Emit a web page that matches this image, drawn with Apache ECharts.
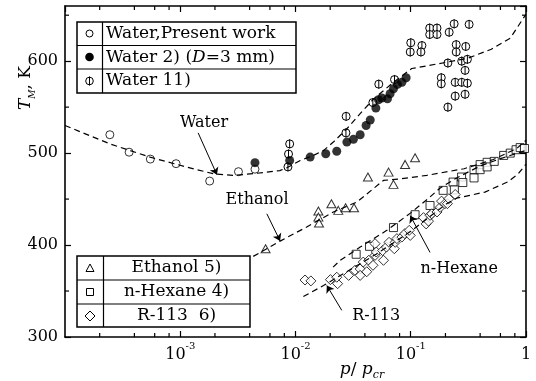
<!DOCTYPE html>
<html>
<head>
<meta charset="utf-8">
<script src="https://cdn.jsdelivr.net/npm/echarts@6/dist/echarts.min.js"></script>
<style>
html, body { margin: 0; padding: 0; background: #fff; }
#chart { width: 536px; height: 381px; }
</style>
</head>
<body>
<div id="chart"></div>
<script>
const X_MIN = 1e-4, X_MAX = 1;
const Y_MIN = 300, Y_MAX = 660;
const FONT = 'DejaVu Serif';

// minor tick positions (p/pcr) and temperatures
const xMinorTicks = [2e-4, 4e-4, 6e-4, 8e-4, 2e-3, 4e-3, 6e-3, 8e-3, 0.02, 0.04, 0.06, 0.08, 0.2, 0.4, 0.6, 0.8];
const yMinorTicks = [350, 450, 550, 650];

// measured points [p/pcr, T_M (K)]
const waterPresent = [[2.45e-4, 520], [3.6e-4, 501], [5.5e-4, 493.5], [9.2e-4, 488.5], [1.8e-3, 469.6],
  [3.2e-3, 479.8], [4.45e-3, 482.5]];
const waterRef2 = [[4.45e-3, 489.6], [8.9e-3, 492], [0.0134, 495.7], [0.0183, 499.3], [0.0228, 502],
  [0.0279, 512], [0.0318, 515], [0.0364, 520], [0.041, 530], [0.0445, 536], [0.0498, 549], [0.0525, 558],
  [0.0561, 560], [0.0628, 559], [0.0662, 564.6], [0.0708, 570], [0.0767, 574.7], [0.0838, 577], [0.0912, 582]];
const waterRef11 = [[8.6e-3, 485], [8.7e-3, 499], [8.9e-3, 510], [0.0274, 522], [0.0275, 540], [0.0469, 555],
  [0.0528, 575], [0.0723, 580], [0.1, 620], [0.099, 610], [0.125, 617], [0.1225, 610], [0.146, 636], [0.169, 636],
  [0.146, 629], [0.169, 629], [0.2155, 631.5], [0.238, 640.6], [0.321, 640], [0.248, 618], [0.248, 610], [0.30, 616],
  [0.21, 598], [0.277, 600], [0.31, 602], [0.296, 590], [0.184, 582], [0.184, 575.4], [0.243, 577], [0.277, 577],
  [0.31, 576], [0.243, 562], [0.296, 564], [0.21, 550]];
const ethanol5 = [[5.5e-3, 396], [0.0158, 437], [0.0158, 430.4], [0.016, 424], [0.0205, 445], [0.0235, 437.7],
  [0.0272, 440.6], [0.0322, 440.6], [0.0425, 474], [0.0642, 479.3], [0.0708, 466], [0.0893, 487.7], [0.109, 495]];
const hexane4 = [[0.0336, 390], [0.0439, 398.6], [0.0708, 419], [0.109, 433], [0.147, 443], [0.191, 459.5],
  [0.233, 468.5], [0.239, 460], [0.276, 474], [0.283, 468], [0.354, 482], [0.354, 473], [0.40, 487.5], [0.40, 482],
  [0.46, 490], [0.46, 485], [0.53, 491], [0.64, 497.5], [0.73, 500], [0.82, 503.7], [0.89, 506], [0.97, 505]];
const r113_6 = [[0.0121, 362], [0.0136, 361], [0.0201, 362.4], [0.0232, 358], [0.0228, 365], [0.0289, 367],
  [0.0328, 372.5], [0.0364, 374], [0.0364, 367], [0.0387, 381.5], [0.0415, 371], [0.0432, 383.4], [0.047, 378],
  [0.049, 388.8], [0.049, 401.5], [0.0502, 392.4], [0.057, 394], [0.058, 383.4], [0.0615, 397.8], [0.0648, 403],
  [0.072, 396], [0.0733, 403], [0.0758, 407], [0.0838, 408.7], [0.0888, 412.4], [0.099, 410.5], [0.097, 416],
  [0.129, 429.8], [0.136, 423], [0.1426, 426], [0.147, 432.3], [0.152, 434], [0.169, 436], [0.18, 441],
  [0.185, 447.8], [0.198, 445], [0.208, 445], [0.214, 450.4], [0.243, 455]];

// correlation curves (dashed)
const waterCurve = [[1e-4, 530], [2.46e-4, 510], [5.47e-4, 495.6], [1.14e-3, 484.8], [1.93e-3, 477.6],
  [2.87e-3, 475.8], [4.28e-3, 477.6], [7.3e-3, 481], [8.4e-3, 484], [0.011, 492], [0.0143, 497.5], [0.0176, 503],
  [0.0213, 512], [0.0279, 526.5], [0.0364, 543], [0.0477, 559], [0.0707, 577], [0.102, 592], [0.17, 597],
  [0.31, 603], [0.5, 613], [0.73, 625], [1, 651]];
const ethanolCurve = [[4.3e-3, 387.7], [7.35e-3, 404.3], [0.0125, 419.6], [0.0213, 436], [0.034, 446.7],
  [0.058, 470.3], [0.081, 472], [0.138, 475.8], [0.29, 483], [0.52, 493], [0.83, 505], [1, 514]];
const hexaneCurve = [[0.0212, 376], [0.0244, 383.4], [0.0364, 397.8], [0.062, 416], [0.1, 435], [0.14, 450],
  [0.18, 462], [0.25, 473], [0.4, 486], [0.6, 494], [1, 503]];
const r113Curve = [[0.0117, 344], [0.0175, 356], [0.05, 390], [0.1, 415], [0.2, 444], [0.25, 451],
  [0.44, 457.6], [0.69, 468.5], [0.85, 477], [1, 488]];

// curve labels and their arrows [p/pcr, T]
const curveNames = ['Water', 'Ethanol', 'n-Hexane', 'R-113'];
const namePos = [[1.61e-3, 533], [4.64e-3, 449], [0.263, 374], [0.0501, 322.5]];
const arrowFrom = [[1.43e-3, 522], [5.64e-3, 434], [0.147, 392], [0.0252, 329]];
const arrowTo = [[2.08e-3, 476.5], [7.35e-3, 404.5], [0.099, 432], [0.0187, 356]];

const chart = echarts.init(document.getElementById('chart'), null, { renderer: 'canvas' });

function curveSeries(data, i) {
  return {
    type: 'line', data: data, symbol: 'none', silent: true,
    lineStyle: { color: '#000', width: 1.2, type: [6, 4] },
    markPoint: {
      symbol: 'circle', symbolSize: 0, silent: true,
      label: { show: true, position: 'inside', formatter: curveNames[i], color: '#000', fontFamily: FONT, fontSize: 16 },
      data: [{ coord: namePos[i] }]
    },
    markLine: {
      symbol: ['none', 'arrow'], symbolSize: 7, silent: true,
      label: { show: false },
      lineStyle: { color: '#000', width: 1, type: 'solid' },
      data: [[{ coord: arrowFrom[i] }, { coord: arrowTo[i] }]]
    }
  };
}

function phiItem(params, api) {
  const p = api.coord([api.value(0), api.value(1)]);
  return {
    type: 'group', children: [
      { type: 'circle', shape: { cx: p[0], cy: p[1], r: 4 }, style: { fill: '#fff', stroke: '#000', lineWidth: 1 } },
      { type: 'line', shape: { x1: p[0], y1: p[1] - 4.5, x2: p[0], y2: p[1] + 4.5 }, style: { stroke: '#000', lineWidth: 1 } }
    ]
  };
}

const tickStyle = { stroke: '#000', lineWidth: 1.2 };

const axisCommon = {
  axisLine: { onZero: false, lineStyle: { color: '#000', width: 1.6 } },
  axisTick: { inside: true, length: 6, lineStyle: { color: '#000', width: 1.2 } },
  splitLine: { show: false }
};

const option = {
  animation: false,
  backgroundColor: '#fff',
  grid: { left: 65, right: 10, top: 6, bottom: 44 },
  xAxis: [
    Object.assign({
      type: 'log', logBase: 10, min: X_MIN, max: X_MAX, position: 'bottom',
      axisLabel: {
        showMinLabel: false, margin: 4, color: '#000',
        formatter: function (v) {
          const e = Math.round(Math.log10(v));
          return e === 0 ? '{a|1}' : '{a|10}{e|-' + (-e) + '}';
        },
        rich: {
          a: { fontFamily: FONT, fontSize: 16, lineHeight: 28, color: '#000' },
          e: { fontFamily: FONT, fontSize: 10, lineHeight: 12, verticalAlign: 'top', color: '#000' }
        }
      }
    }, axisCommon),
    Object.assign({
      type: 'log', logBase: 10, min: X_MIN, max: X_MAX, position: 'top', axisLabel: { show: false }
    }, axisCommon)
  ],
  yAxis: [
    Object.assign({
      type: 'value', min: Y_MIN, max: Y_MAX, interval: 100, position: 'left',
      axisLabel: { showMaxLabel: false, margin: 7, color: '#000', fontFamily: FONT, fontSize: 16 }
    }, axisCommon),
    Object.assign({
      type: 'value', min: Y_MIN, max: Y_MAX, interval: 100, position: 'right', axisLabel: { show: false }
    }, axisCommon)
  ],
  series: [
    curveSeries(waterCurve, 0),
    curveSeries(ethanolCurve, 1),
    curveSeries(hexaneCurve, 2),
    curveSeries(r113Curve, 3),
    {
      type: 'custom', silent: true, data: xMinorTicks.map(v => [v, Y_MIN]), encode: { x: 0, y: 1 },
      renderItem: function (params, api) {
        const b = api.coord([api.value(0), Y_MIN]);
        const t = api.coord([api.value(0), Y_MAX]);
        return { type: 'group', children: [
          { type: 'line', shape: { x1: b[0], y1: b[1], x2: b[0], y2: b[1] - 4 }, style: tickStyle },
          { type: 'line', shape: { x1: t[0], y1: t[1], x2: t[0], y2: t[1] + 4 }, style: tickStyle }
        ] };
      }
    },
    {
      type: 'custom', silent: true, data: yMinorTicks.map(v => [X_MIN, v]), encode: { x: 0, y: 1 },
      renderItem: function (params, api) {
        const l = api.coord([X_MIN, api.value(1)]);
        const r = api.coord([X_MAX, api.value(1)]);
        return { type: 'group', children: [
          { type: 'line', shape: { x1: l[0], y1: l[1], x2: l[0] + 4, y2: l[1] }, style: tickStyle },
          { type: 'line', shape: { x1: r[0], y1: r[1], x2: r[0] - 4, y2: r[1] }, style: tickStyle }
        ] };
      }
    },
    { type: 'scatter', data: waterPresent, symbol: 'circle', symbolSize: 8, silent: true,
      itemStyle: { color: '#fff', borderColor: '#000', borderWidth: 1 } },
    { type: 'scatter', data: waterRef2, symbol: 'circle', symbolSize: 9, silent: true,
      itemStyle: { color: '#000' } },
    { type: 'custom', data: waterRef11, encode: { x: 0, y: 1 }, silent: true, renderItem: phiItem },
    { type: 'scatter', data: ethanol5, symbol: 'triangle', symbolSize: [9, 8], silent: true,
      itemStyle: { color: '#fff', borderColor: '#000', borderWidth: 1 } },
    { type: 'scatter', data: hexane4, symbol: 'rect', symbolSize: 8, silent: true,
      itemStyle: { color: '#fff', borderColor: '#000', borderWidth: 1 } },
    { type: 'scatter', data: r113_6, symbol: 'diamond', symbolSize: 10, silent: true,
      itemStyle: { color: '#fff', borderColor: '#000', borderWidth: 1 } }
  ],
  graphic: [
    // upper legend
    { type: 'group', z: 100, children: [
      { type: 'rect', shape: { x: 77, y: 22, width: 219, height: 71 }, style: { fill: '#fff', stroke: '#000', lineWidth: 1.5 } },
      { type: 'line', shape: { x1: 77, y1: 45.5, x2: 296, y2: 45.5 }, style: { stroke: '#000', lineWidth: 1.2 } },
      { type: 'line', shape: { x1: 77, y1: 69, x2: 296, y2: 69 }, style: { stroke: '#000', lineWidth: 1.2 } },
      { type: 'line', shape: { x1: 102.5, y1: 22, x2: 102.5, y2: 93 }, style: { stroke: '#000', lineWidth: 1.2 } },
      { type: 'circle', shape: { cx: 89.5, cy: 33.5, r: 3.5 }, style: { fill: '#fff', stroke: '#000', lineWidth: 1 } },
      { type: 'circle', shape: { cx: 89.5, cy: 57, r: 4.3 }, style: { fill: '#000' } },
      { type: 'circle', shape: { cx: 89.5, cy: 81, r: 3.8 }, style: { fill: '#fff', stroke: '#000', lineWidth: 1 } },
      { type: 'line', shape: { x1: 89.5, y1: 76.5, x2: 89.5, y2: 85.5 }, style: { stroke: '#000', lineWidth: 1 } },
      { type: 'text', x: 106, y: 34, style: { text: 'Water,Present work', font: '17px "DejaVu Serif"', fill: '#000', verticalAlign: 'middle' } },
      { type: 'text', x: 106, y: 57.5, style: {
        text: '{n|Water 2) (}{i|D}{n|=3 mm)}', fill: '#000', verticalAlign: 'middle',
        rich: { n: { fontFamily: FONT, fontSize: 17 }, i: { fontFamily: FONT, fontSize: 17, fontStyle: 'italic' } } } },
      { type: 'text', x: 106, y: 81, style: { text: 'Water 11)', font: '17px "DejaVu Serif"', fill: '#000', verticalAlign: 'middle' } }
    ] },
    // lower legend
    { type: 'group', z: 100, children: [
      { type: 'rect', shape: { x: 77, y: 256, width: 173, height: 71 }, style: { fill: '#fff', stroke: '#000', lineWidth: 1.5 } },
      { type: 'line', shape: { x1: 77, y1: 280, x2: 250, y2: 280 }, style: { stroke: '#000', lineWidth: 1.2 } },
      { type: 'line', shape: { x1: 77, y1: 304, x2: 250, y2: 304 }, style: { stroke: '#000', lineWidth: 1.2 } },
      { type: 'line', shape: { x1: 103.5, y1: 256, x2: 103.5, y2: 327 }, style: { stroke: '#000', lineWidth: 1.2 } },
      { type: 'polygon', shape: { points: [[90, 264], [94, 271.5], [86, 271.5]] }, style: { fill: '#fff', stroke: '#000', lineWidth: 1 } },
      { type: 'rect', shape: { x: 86.5, y: 288.5, width: 7, height: 7 }, style: { fill: '#fff', stroke: '#000', lineWidth: 1 } },
      { type: 'polygon', shape: { points: [[90, 311], [95, 316], [90, 321], [85, 316]] }, style: { fill: '#fff', stroke: '#000', lineWidth: 1 } },
      { type: 'text', x: 176.5, y: 268, style: { text: 'Ethanol 5)', font: '17px "DejaVu Serif"', fill: '#000', align: 'center', verticalAlign: 'middle' } },
      { type: 'text', x: 176.5, y: 292, style: { text: 'n-Hexane 4)', font: '17px "DejaVu Serif"', fill: '#000', align: 'center', verticalAlign: 'middle' } },
      { type: 'text', x: 176.5, y: 316, style: { text: 'R-113  6)', font: '17px "DejaVu Serif"', fill: '#000', align: 'center', verticalAlign: 'middle' } }
    ] },
    // axis names
    { type: 'text', x: 26, y: 88, rotation: Math.PI / 2, style: {
      text: '{i|T}{s|M}{n|, K}', fill: '#000', align: 'center', verticalAlign: 'middle',
      rich: {
        i: { fontFamily: FONT, fontSize: 17, fontStyle: 'italic', lineHeight: 22 },
        s: { fontFamily: FONT, fontSize: 9, fontStyle: 'italic', lineHeight: 10, verticalAlign: 'bottom' },
        n: { fontFamily: FONT, fontSize: 17, lineHeight: 22 }
      } } },
    { type: 'text', x: 362, y: 370, style: {
      text: '{i|p}{n|/ }{i|p}{s|cr}', fill: '#000', align: 'center', verticalAlign: 'middle',
      rich: {
        i: { fontFamily: FONT, fontSize: 17, fontStyle: 'italic', lineHeight: 22 },
        n: { fontFamily: FONT, fontSize: 17, lineHeight: 22 },
        s: { fontFamily: FONT, fontSize: 11, fontStyle: 'italic', lineHeight: 12, verticalAlign: 'bottom' }
      } } }
  ]
};

chart.setOption(option);
</script>
</body>
</html>
